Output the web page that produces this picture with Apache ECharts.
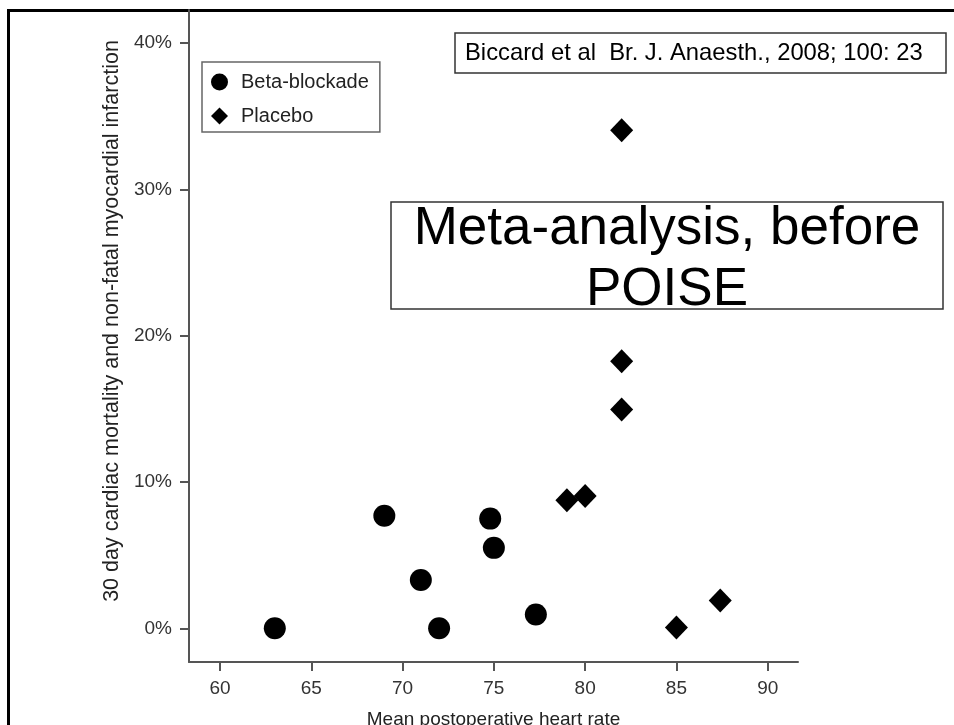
<!DOCTYPE html>
<html>
<head>
<meta charset="utf-8">
<title>Beta-blockade meta-analysis</title>
<script src="https://cdn.jsdelivr.net/npm/echarts@6/dist/echarts.min.js"></script>
<style>
  html, body { margin: 0; padding: 0; background: #fff; }
  #chart { width: 954px; height: 725px; }
</style>
</head>
<body>
<div id="chart"></div>
<script>
// 数据：心率 vs 30天心脏死亡率/心梗
const betaHR = [63, 69, 71, 72, 74.8, 75, 77.3]
const betaRate = [0, 7.7, 3.3, 0, 7.5, 5.5, 0.95]
const placeboHR = [79, 80, 82, 82, 82, 85, 87.4]
const placeboRate = [8.75, 9.05, 34.05, 18.25, 14.95, 0.05, 1.9]
const xTicks = [60, 65, 70, 75, 80, 85, 90]
const yTicks = [0, 10, 20, 30, 40]

const FONT = '"Liberation Sans", Arial, Helvetica, sans-serif'
const axisColor = '#555'
const diamondIcon = 'path://M0,-1L1,0L0,1L-1,0Z'

const chart = echarts.init(document.getElementById('chart'))

const toPairs = (xs, ys) => xs.map((x, i) => [x, ys[i]])

const option = {
  backgroundColor: '#fff',
  animation: false,
  grid: { left: 189, top: 10, right: 156, bottom: 63, outerBoundsMode: 'none' },
  legend: {
    left: 202,
    top: 62,
    orient: 'vertical',
    padding: [10, 11, 6, 9],
    itemGap: 14,
    itemWidth: 33,
    itemHeight: 17,
    borderColor: '#666',
    borderWidth: 1.5,
    textStyle: { fontFamily: FONT, fontSize: 20, color: '#222' },
    data: [
      { name: 'Beta-blockade', icon: 'circle' },
      { name: 'Placebo', icon: diamondIcon }
    ]
  },
  xAxis: {
    type: 'value',
    min: 58.3,
    max: 91.66,
    name: 'Mean postoperative heart rate',
    nameLocation: 'middle',
    nameGap: 48,
    nameTextStyle: { fontFamily: FONT, fontSize: 19, color: '#222' },
    splitLine: { show: false },
    axisLine: { onZero: false, lineStyle: { color: axisColor, width: 2 } },
    axisTick: { customValues: xTicks, length: 9, lineStyle: { color: axisColor, width: 2 } },
    axisLabel: {
      customValues: xTicks,
      margin: 17,
      fontFamily: FONT,
      fontSize: 19,
      color: '#333'
    }
  },
  yAxis: {
    type: 'value',
    min: -2.3,
    max: 42.26,
    name: '30 day cardiac mortality and non-fatal myocardial infarction',
    nameLocation: 'middle',
    nameGap: 66,
    nameTextStyle: {
      fontFamily: FONT,
      fontSize: 21.5,
      color: '#222',
      padding: [0, 0, 0, 30]
    },
    splitLine: { show: false },
    axisLine: { onZero: false, lineStyle: { color: axisColor, width: 2 } },
    axisTick: { customValues: yTicks, length: 9, lineStyle: { color: axisColor, width: 2 } },
    axisLabel: {
      customValues: yTicks,
      margin: 17,
      fontFamily: FONT,
      fontSize: 19,
      color: '#333',
      formatter: '{value}%'
    }
  },
  series: [
    {
      name: 'Beta-blockade',
      type: 'scatter',
      symbol: 'circle',
      symbolSize: 22,
      itemStyle: { color: '#000', opacity: 1 },
      data: toPairs(betaHR, betaRate)
    },
    {
      name: 'Placebo',
      type: 'scatter',
      symbol: 'diamond',
      symbolSize: [23, 24],
      itemStyle: { color: '#000', opacity: 1 },
      data: toPairs(placeboHR, placeboRate)
    }
  ],
  graphic: [
    // 外框
    {
      type: 'rect',
      shape: { x: 8.5, y: 10.5, width: 1000, height: 800 },
      style: { fill: 'none', stroke: '#000', lineWidth: 3 },
      silent: true
    },
    // 文献引用
    {
      type: 'rect',
      shape: { x: 455, y: 33, width: 491, height: 40 },
      style: { fill: '#fff', stroke: '#333', lineWidth: 1.5 }
    },
    {
      type: 'text',
      x: 465,
      y: 53,
      style: {
        text: 'Biccard et al  Br. J. Anaesth., 2008; 100: 23',
        font: '23.8px ' + FONT,
        fill: '#000',
        align: 'left',
        verticalAlign: 'middle'
      }
    },
    // 标题框
    {
      type: 'rect',
      shape: { x: 391, y: 202, width: 552, height: 107 },
      style: { fill: '#fff', stroke: '#333', lineWidth: 1.5 }
    },
    {
      type: 'text',
      x: 667,
      y: 260,
      style: {
        text: 'Meta-analysis, before\nPOISE',
        font: '53px ' + FONT,
        lineHeight: 61,
        fill: '#000',
        align: 'center',
        verticalAlign: 'middle'
      }
    }
  ]
}

chart.setOption(option)
window.addEventListener('resize', () => chart.resize())
</script>
</body>
</html>
